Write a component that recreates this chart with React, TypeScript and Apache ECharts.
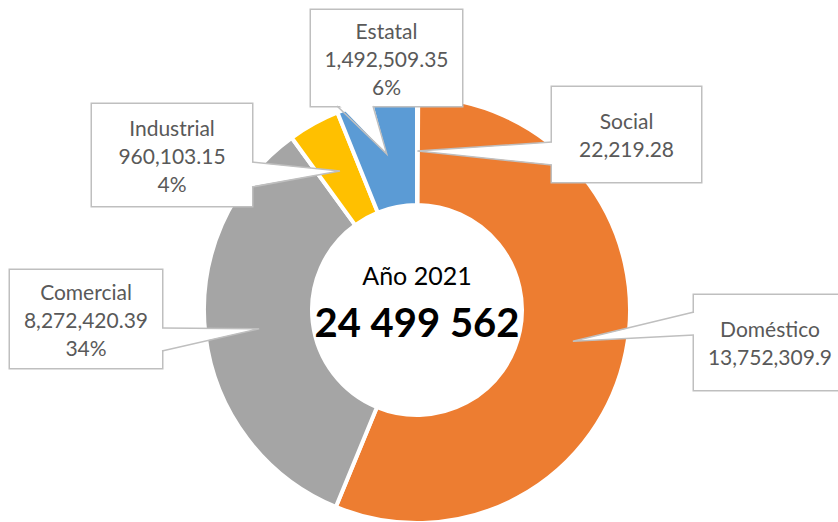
import { useEffect, useRef } from 'react';
import * as echarts from 'echarts';

// ---- data ----
const categories = ['Social', 'Doméstico', 'Comercial', 'Industrial', 'Estatal'];
const values = [22219.28, 13752309.9, 8272420.39, 960103.15, 1492509.35];
const showPercent = [false, false, true, true, true];
const centerTitle = 'Año 2021';

// ---- styles / layout ----
const COLORS = ['#4472C4', '#ED7D31', '#A5A5A5', '#FFC000', '#5B9BD5'];
const CX = 417;
const CY = 310;
const R_IN = 105;
const R_OUT = 213;
const R_TIP = 159;
const FONT = 'Lato, "Open Sans", sans-serif';
const BORDER = '#BFBFBF';

type Pt = [number, number];
type Callout = { box: [number, number, number, number]; base: [Pt, Pt]; inward: Pt };
const callouts: Callout[] = [
  { box: [552, 87, 149, 95], base: [[552, 142], [552, 165]], inward: [3, 0] },
  { box: [694, 295, 152, 95], base: [[694, 312], [694, 335]], inward: [3, 0] },
  { box: [10, 270, 152, 98], base: [[162, 328], [162, 351]], inward: [-3, 0] },
  { box: [92, 104, 160, 102], base: [[252, 162], [252, 187]], inward: [-3, 0] },
  { box: [311, 10, 151, 96], base: [[337, 106], [373, 106]], inward: [0, -3] },
];

const LINE_H = 28;

export default function App() {
  const ref = useRef<HTMLDivElement>(null);

  useEffect(() => {
    if (!ref.current) return;
    const chart = echarts.init(ref.current, undefined, { renderer: 'svg' });

    const total = values.reduce((a, b) => a + b, 0);
    const totalText = Math.round(total).toLocaleString('en-US').replace(/,/g, ' ');

    // wedge tips at mid-angle of each slice
    const graphics: any[] = [];
    let cum = 0;
    values.forEach((v, i) => {
      const theta = (2 * Math.PI * (cum + v / 2)) / total;
      cum += v;
      const tip: Pt = [CX + R_TIP * Math.sin(theta), CY - R_TIP * Math.cos(theta)];
      const c = callouts[i];
      const b1: Pt = c.base[0];
      const b2: Pt = c.base[1];
      graphics.push({
        type: 'polygon',
        z: 100,
        shape: {
          points: [
            [b1[0] + c.inward[0], b1[1] + c.inward[1]],
            tip,
            [b2[0] + c.inward[0], b2[1] + c.inward[1]],
          ],
        },
        style: { fill: '#fff', stroke: null },
      });
      graphics.push({
        type: 'polyline',
        z: 101,
        shape: { points: [b1, tip, b2] },
        style: { stroke: BORDER, lineWidth: 1.5, fill: null },
      });
    });

    graphics.push({
      type: 'text',
      z: 100,
      x: CX,
      y: 275,
      style: {
        text: centerTitle,
        fontSize: 25,
        fontFamily: FONT,
        fill: '#000',
        align: 'center',
        verticalAlign: 'middle',
        textAlign: 'center',
        textVerticalAlign: 'middle',
      },
    });
    graphics.push({
      type: 'text',
      z: 100,
      x: CX,
      y: 322,
      style: {
        text: totalText,
        fontSize: 40,
        fontWeight: 'bold',
        fontFamily: FONT,
        fill: '#000',
        align: 'center',
        verticalAlign: 'middle',
        textAlign: 'center',
        textVerticalAlign: 'middle',
      },
    });

    const data = categories.map((name, i) => {
      const lines = showPercent[i] ? 3 : 2;
      const h = callouts[i].box[3];
      const v = (h - lines * LINE_H) / 2;
      return {
        name,
        value: values[i],
        itemStyle: { color: COLORS[i] },
        label: { padding: [v, 0, v, 0], width: callouts[i].box[2] },
      };
    });

    chart.setOption({
      animation: false,
      backgroundColor: '#fff',
      graphic: { elements: graphics },
      series: [
        {
          type: 'pie',
          center: [CX, CY],
          radius: [R_IN, R_OUT],
          startAngle: 90,
          clockwise: true,
          avoidLabelOverlap: false,
          itemStyle: { borderColor: '#fff', borderWidth: 4 },
          label: {
            show: true,
            position: 'outside',
            color: '#595959',
            fontSize: 21,
            fontFamily: FONT,
            lineHeight: LINE_H,
            align: 'center',
            backgroundColor: '#fff',
            borderColor: BORDER,
            borderWidth: 1.5,
            formatter: (p: any) => {
              const val = Number(p.value).toLocaleString('en-US', { maximumFractionDigits: 2 });
              let s = `${p.name}\n${val}`;
              if (showPercent[p.dataIndex]) s += `\n${Math.round(p.percent)}%`;
              return s;
            },
          },
          labelLine: { show: false },
          labelLayout: (params: any) => {
            const b = callouts[params.dataIndex].box;
            return {
              x: b[0] + b[2] / 2,
              y: b[1] + b[3] / 2,
              align: 'center',
              verticalAlign: 'middle',
            };
          },
          emphasis: { disabled: true },
          data,
        },
      ],
    });

    return () => chart.dispose();
  }, []);

  return (
    <div
      ref={ref}
      style={{ position: 'fixed', left: 0, top: 0, width: 838, height: 522 }}
    />
  );
}
